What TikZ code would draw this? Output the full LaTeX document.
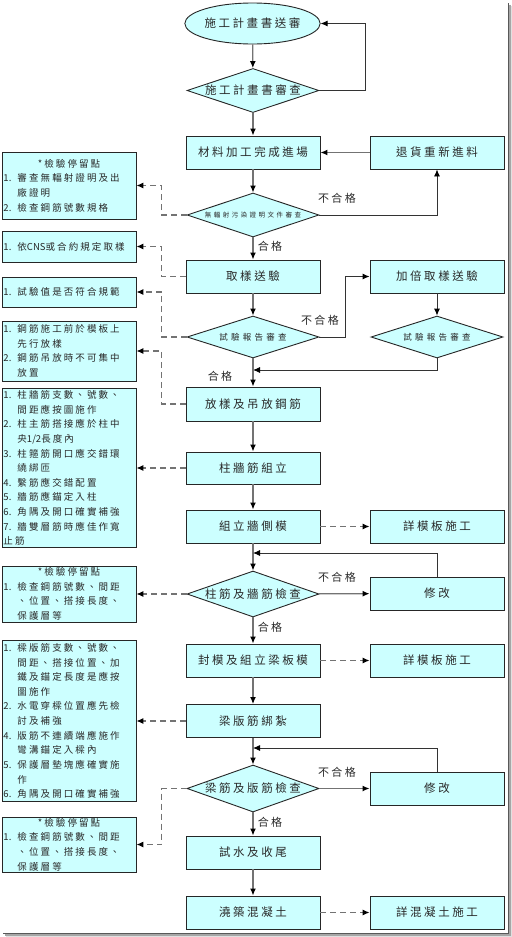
\documentclass[tikz,border=0pt]{standalone}
\usepackage{fontspec}
\newfontfamily\cjk[LetterSpace=22]{Noto Sans CJK TC}
\newfontfamily\cjkwide[LetterSpace=38]{Noto Sans CJK TC}
\usetikzlibrary{shapes.geometric,arrows.meta}
\definecolor{boxfill}{RGB}{204,255,255}
\definecolor{txt}{RGB}{40,40,40}
\newcommand\hind{\hspace*{14bp}}
\newcommand\hdr[1]{\makebox[131bp][c]{#1}}
\newcommand\lat[1]{{\addfontfeature{LetterSpace=0}#1}}
\newcommand\itm[1]{\makebox[14bp][l]{\lat{#1.}}}
\begin{document}
\begin{tikzpicture}[x=1bp,y=-1bp,
 base/.style={draw=black!85, line width=0.9bp, fill=boxfill, text=txt, inner sep=0pt},
 proc/.style={base, rectangle, minimum width=134bp, minimum height=33bp, font=\cjk\fontsize{11.5bp}{14bp}\selectfont},
 dec/.style={base, diamond, minimum width=132bp, minimum height=44bp},
 dectext/.style={text=txt, inner sep=0pt, font=\cjk\fontsize{11.5bp}{14bp}\selectfont},
 decsmall/.style={text=txt, inner sep=0pt, font=\cjkwide\fontsize{8.5bp}{10bp}\selectfont},
 dectiny/.style={text=txt, inner sep=0pt, font=\cjkwide\fontsize{6.5bp}{8bp}\selectfont},
 note/.style={base, rectangle, minimum width=134bp, text width=131bp, align=left, inner xsep=1.5bp, font=\cjk\fontsize{9.5bp}{14.6bp}\selectfont},
 flow/.style={draw=black!55, line width=1.3bp, -{Latex[length=7bp,width=6bp,color=black]}},
 back/.style={draw=black!80, line width=0.9bp, -{Latex[length=7bp,width=6bp,color=black]}},
 dashflow/.style={draw=black!55, line width=1.1bp, dash pattern=on 6bp off 4bp, -{Latex[length=7bp,width=6bp,color=black]}},
 lbl/.style={text=txt, inner sep=0pt, font=\cjk\fontsize{11bp}{13bp}\selectfont},
]
\useasboundingbox (0,0) rectangle (512,937);
\fill[white] (0,0) rectangle (512,937);
% frame shadow
\draw[black!65, line width=1.5bp] (508.5,3) -- (508.5,933.5) -- (3,933.5);
\draw[black!35, line width=1.5bp] (510,4.5) -- (510,935) -- (4.5,935);
\draw[black!12, line width=1.5bp] (511.5,6) -- (511.5,936.5) -- (6,936.5);

% main column
\node[base, ellipse, minimum width=133bp, minimum height=41bp, font=\cjk\fontsize{11.5bp}{14bp}\selectfont] (e0) at (252.5,23.5) {施工計畫書送審};
\node[dec, label={[dectext]center:施工計畫書審查}] (d1) at (253,90.5) {};
\node[proc] (b1) at (253,152.5) {材料加工完成進場};
\node[proc] (r1) at (437,152.5) {退貨重新進料};
\node[dec, label={[dectiny]center:無輻射污染證明文件審查}] (d2) at (253,215) {};
\node[proc] (b2) at (253,276.5) {取樣送驗};
\node[proc] (r2) at (437,276.5) {加倍取樣送驗};
\node[dec, minimum height=42bp, label={[decsmall]center:試驗報告審查}] (d3) at (253,337) {};
\node[dec, minimum height=42bp, label={[decsmall]center:試驗報告審查}] (rd3) at (437,337) {};
\node[proc, minimum height=34bp] (b3) at (253,404) {放樣及吊放鋼筋};
\node[proc, minimum height=32bp] (b4) at (253,468) {柱牆筋組立};
\node[proc] (b5) at (253,526.5) {組立牆側模};
\node[proc] (r5) at (437,526.5) {詳模板施工};
\node[dec, minimum height=46bp, label={[dectext]center:柱筋及牆筋檢查}] (d4) at (253,594) {};
\node[proc] (m4) at (437,593.5) {修改};
\node[proc] (b6) at (253,660.5) {封模及組立梁板模};
\node[proc] (r6) at (437,660.5) {詳模板施工};
\node[proc] (b7) at (253,721) {梁版筋綁紮};
\node[dec, minimum height=47bp, label={[dectext]center:梁筋及版筋檢查}] (d5) at (253,788.5) {};
\node[proc] (m5) at (437,788.5) {修改};
\node[proc] (b8) at (253,852.5) {試水及收尾};
\node[proc] (b9) at (253,912.5) {澆築混凝土};
\node[proc] (r9) at (437,912.5) {詳混凝土施工};

% left notes
\node[note, minimum height=67bp] (nA) at (69,185.5) {\hdr{*檢驗停留點}\\\itm{1}審查無輻射證明及出\\\hind 廠證明\\\itm{2}檢查鋼筋號數規格};
\node[note, minimum height=31bp] (nB) at (69,246.5) {\itm{1}依\lat{CNS}或合約規定取樣};
\node[note, minimum height=30bp] (nC) at (69,292) {\itm{1}試驗值是否符合規範};
\node[note, minimum height=60bp] (nD) at (69,351) {\itm{1}鋼筋施工前於模板上\\\hind 先行放樣\\\itm{2}鋼筋吊放時不可集中\\\hind 放置};
\node[note, minimum height=159bp] (nE) at (69,468) {\itm{1}柱牆筋支數、號數、\\\hind 間距應按圖施作\\\itm{2}柱主筋搭接應於柱中\\\hind 央\lat{1/2}長度內\\\itm{3}柱箍筋開口應交錯環\\\hind 繞綁匝\\\itm{4}繫筋應交錯配置\\\itm{5}牆筋應錨定入柱\\\itm{6}角隅及開口確實補強\\\itm{7}牆雙層筋時應佳作寬\\止筋};
\node[note, minimum height=56bp] (nF) at (69,594) {\hdr{*檢驗停留點}\\\itm{1}檢查鋼筋號數、間距\\\hind 、位置、搭接長度、\\\hind 保護層等};
\node[note, minimum height=161bp] (nG) at (69,721) {\itm{1}樑版筋支數、號數、\\\hind 間距、搭接位置、加\\\hind 鐵及錨定長度是應按\\\hind 圖施作\\\itm{2}水電穿樑位置應先檢\\\hind 討及補強\\\itm{4}版筋不連續端應施作\\\hind 彎溝錨定入樑內\\\itm{5}保護層墊塊應確實施\\\hind 作\\\itm{6}角隅及開口確實補強};
\node[note, minimum height=55bp] (nH) at (69,844.5) {\hdr{*檢驗停留點}\\\itm{1}檢查鋼筋號數、間距\\\hind 、位置、搭接長度、\\\hind 保護層等};

% labels
\node[lbl] (l1) at (337,198) {不合格};
\node[lbl] (l2) at (270,246) {合格};
\node[lbl] (l3) at (320,320) {不合格};
\node[lbl] (l4) at (220,376) {合格};
\node[lbl] (l5) at (337,577) {不合格};
\node[lbl] (l6) at (270,627) {合格};
\node[lbl] (l7) at (337,772) {不合格};
\node[lbl] (l8) at (270,822) {合格};

% junction coordinates
\coordinate (j1) at (253,370);
\coordinate (j2) at (253,553);
\coordinate (j3) at (253,748);

% solid flow
\draw[flow] (e0) -- (d1);
\draw[flow] (d1) -- (b1);
\draw[back] (d1.east) -- ++(46,0) |- (e0.east);
\draw[flow] (r1) -- (b1);
\draw[flow] (b1) -- (d2);
\draw[back] (d2.east) -| (r1.south);
\draw[flow] (d2) -- (b2);
\draw[flow] (b2) -- (d3);
\draw[back] (d3.east) -- ++(26,0) |- (r2.west);
\draw[back] (r2) -- (rd3);
\draw[back] (rd3.south) |- (j1);
\draw[flow] (d3) -- (b3);
\draw[flow] (b3) -- (b4);
\draw[flow] (b4) -- (b5);
\draw[flow] (b5) -- (d4);
\draw[back] (m4.north) |- (j2);
\draw[flow] (d4) -- (m4);
\draw[flow] (d4) -- (b6);
\draw[flow] (b6) -- (b7);
\draw[flow] (b7) -- (d5);
\draw[back] (m5.north) |- (j3);
\draw[flow] (d5) -- (m5);
\draw[flow] (d5) -- (b8);
\draw[flow] (b8) -- (b9);

% dashed right
\draw[dashflow] (b5) -- (r5);
\draw[dashflow] (b6) -- (r6);
\draw[dashflow] (b9) -- (r9);

% dashed left
\draw[dashflow] (d2.west) -- ++(-25,0) |- (nA.east);
\draw[dashflow] (b2.west) -- ++(-24,0) |- (nB.east);
\draw[dashflow] (d3.west) -- ++(-25,0) |- (nC.east);
\draw[dashflow] (b3.west) -- ++(-24,0) |- (nD.east);
\draw[dashflow] (b4.west) -- (nE.east);
\draw[dashflow] (d4.west) -- (nF.east);
\draw[dashflow] (b7.west) -- (nG.east);
\draw[dashflow] (d5.west) -- ++(-25,0) |- (nH.east);
\end{tikzpicture}
\end{document}
